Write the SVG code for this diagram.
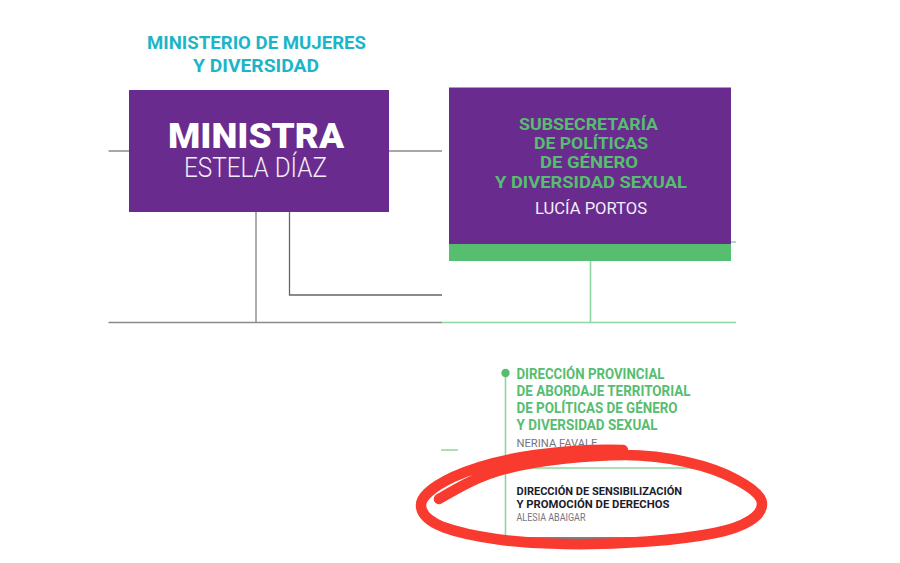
<svg xmlns="http://www.w3.org/2000/svg" width="900" height="563" viewBox="0 0 900 563">
<style>
text{font-family:Roboto,"Liberation Sans",sans-serif}
.b{font-weight:700}
.c{text-anchor:middle}
.teal{fill:#1cb5c8;font-size:18px}
.gt{fill:#57bd6f;font-size:16.500px}
.gs{fill:#57bd6f;font-size:14px}
.nm{fill:#77747f;font-size:11.500px}
.dk{fill:#1c1c2c;font-size:11.500px}
.gr{stroke:#8a8a8a;stroke-width:1.400;fill:none}
.gn{stroke:#8fd6a0;stroke-width:1.600;fill:none}
</style>
<rect width="900" height="563" fill="#fff"/>
<g id="connectors">
<path class="gr" d="M108.500 151H129M389 151H442M108.500 322.500H442M256 208V322.500"/>
<path d="M289.500 204V295H442" stroke="#666" stroke-width="1.300" fill="none"/>
<path class="gn" d="M442 322.500H736M590.500 261V322.500M731 242H736M441 450H458M505.500 373V538M505.500 468H700"/>
<path d="M505.500 538H640" stroke="#55555a" stroke-width="1.500" fill="none"/>
</g>
<g id="title">
<text class="b c teal" x="256.500" y="49" textLength="219" lengthAdjust="spacingAndGlyphs">MINISTERIO DE MUJERES</text>
<text class="b c teal" x="256" y="71.500" textLength="126" lengthAdjust="spacingAndGlyphs">Y DIVERSIDAD</text>
</g>
<g id="ministra">
<rect x="129" y="90" width="260" height="122" fill="#692c8e"/>
<text class="c" x="256" y="148" fill="#fff" font-size="35" font-weight="900" textLength="176" lengthAdjust="spacingAndGlyphs">MINISTRA</text>
<text class="c" x="255.500" y="177" fill="#f3edf7" font-size="28" font-weight="300" textLength="143" lengthAdjust="spacingAndGlyphs">ESTELA DÍAZ</text>
</g>
<g id="subsecretaria">
<rect x="449" y="87.500" width="282" height="157" fill="#692c8e"/>
<rect x="449" y="244" width="282" height="17" fill="#57bd6f"/>
<text class="b c gt" x="588.500" y="130" textLength="139" lengthAdjust="spacingAndGlyphs">SUBSECRETARÍA</text>
<text class="b c gt" x="591" y="149" textLength="114" lengthAdjust="spacingAndGlyphs">DE POLÍTICAS</text>
<text class="b c gt" x="589" y="168" textLength="98" lengthAdjust="spacingAndGlyphs">DE GÉNERO</text>
<text class="b c gt" x="591" y="188" textLength="192" lengthAdjust="spacingAndGlyphs">Y DIVERSIDAD SEXUAL</text>
<text class="c" x="591" y="214" fill="#f3edf7" font-size="16" textLength="112" lengthAdjust="spacingAndGlyphs">LUCÍA PORTOS</text>
</g>
<g id="direccion-provincial">
<circle cx="505.500" cy="373" r="4.200" fill="#57bd6f"/>
<text class="b gs" x="516.500" y="379" textLength="148" lengthAdjust="spacingAndGlyphs">DIRECCIÓN PROVINCIAL</text>
<text class="b gs" x="516.500" y="396" textLength="174" lengthAdjust="spacingAndGlyphs">DE ABORDAJE TERRITORIAL</text>
<text class="b gs" x="516.500" y="413" textLength="161" lengthAdjust="spacingAndGlyphs">DE POLÍTICAS DE GÉNERO</text>
<text class="b gs" x="516.500" y="430" textLength="141" lengthAdjust="spacingAndGlyphs">Y DIVERSIDAD SEXUAL</text>
<text class="nm" x="516.500" y="446.500" textLength="81" lengthAdjust="spacingAndGlyphs">NERINA FAVALE</text>
</g>
<g id="direccion-sensibilizacion">
<text class="b dk" x="516.500" y="495" textLength="165.500" lengthAdjust="spacingAndGlyphs">DIRECCIÓN DE SENSIBILIZACIÓN</text>
<text class="b dk" x="516.500" y="507.500" textLength="153" lengthAdjust="spacingAndGlyphs">Y PROMOCIÓN DE DERECHOS</text>
<text class="nm" x="516.500" y="521" style="font-size:10.500px" textLength="69" lengthAdjust="spacingAndGlyphs">ALESIA ABAIGAR</text>
</g>
<path id="highlight" d="M439 499C458 488 478 476 505 469C540 460 590 455 625 455C665 455 710 465 737 480C752 488 762 496 762 504C762 516 745 527 715 533C680 540 620 545 565 544C520 544 470 537 443 527C428 521 421 513 421 505C421 497 432 487 453 477C475 467 500 460 535 455C565 451 600 449 623 450" fill="none" stroke="#f93a2f" stroke-width="10.500" stroke-linecap="round" stroke-linejoin="round"/>
</svg>
